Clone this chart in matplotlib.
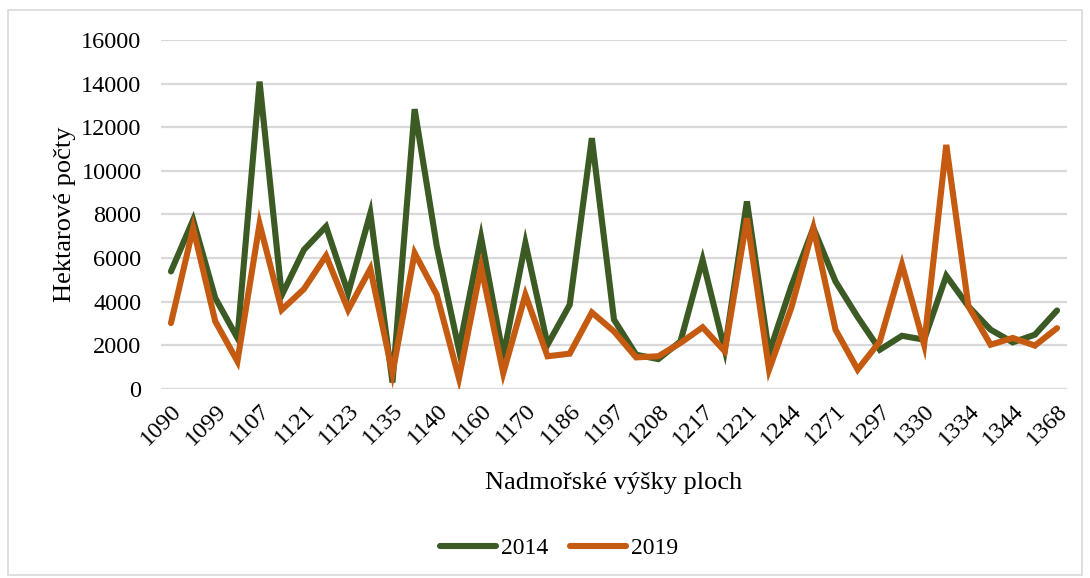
import matplotlib.pyplot as plt
from matplotlib.patches import Rectangle
import numpy as np

# popisky osy x (zobrazena je kazda druha plocha)
x_labels = ['1090', '1099', '1107', '1121', '1123', '1135', '1140', '1160', '1170', '1186', '1197',
            '1208', '1217', '1221', '1244', '1271', '1297', '1330', '1334', '1344', '1368']

# hektarove pocty
vals_2014 = [5390, 7750, 4170, 2340, 14090, 4300, 6380, 7450, 4400, 8060,
             300, 12830, 6540, 1800, 6950, 1500, 6690, 2030, 3860, 11500,
             3180, 1570, 1370, 2180, 5920, 1800, 8600, 1650, 4700, 7380,
             4930, 3300, 1800, 2440, 2260, 5190, 3790, 2720, 2140, 2490, 3600]
vals_2019 = [3020, 7380, 3100, 1270, 7570, 3630, 4580, 6110, 3630, 5510,
             730, 6230, 4320, 500, 5590, 730, 4320, 1500, 1620, 3510,
             2640, 1450, 1500, 2110, 2830, 1730, 7830, 890, 3710, 7380,
             2720, 890, 2180, 5700, 2030, 11190, 3790, 2030, 2340, 1990, 2790]

plt.rcParams['font.family'] = ['Liberation Serif', 'DejaVu Serif']

fig = plt.figure(figsize=(10.9, 5.78), dpi=100)
ax = fig.add_axes([161 / 1090, 1 - 389 / 578, (1067 - 161) / 1090, (389 - 40) / 578])

x = np.arange(len(vals_2014))
ax.plot(x, vals_2014, color='#3B5A24', lw=4.4, label='2014', solid_capstyle='round', solid_joinstyle='miter')
ax.plot(x, vals_2019, color='#C55A11', lw=4.4, label='2019', solid_capstyle='round', solid_joinstyle='miter')

ax.set_ylim(0, 16000)
ax.set_yticks(np.arange(0, 16001, 2000))
ax.set_xlim(-0.45, len(x) - 1 + 0.45)
ax.set_xticks(x[::2])
ax.set_xticklabels(x_labels, rotation=45, ha='right', rotation_mode='anchor')
ax.tick_params(axis='both', length=0, labelsize=17.5, colors='black')
ax.tick_params(axis='x', pad=8)
ax.tick_params(axis='y', pad=14)
ax.grid(axis='y', color='#d9d9d9', lw=1.6)
ax.set_axisbelow(True)
for s in ax.spines.values():
    s.set_visible(False)

ax.set_ylabel('Hektarové počty', fontsize=19)
ax.set_xlabel('Nadmořské výšky ploch', fontsize=19, labelpad=16)

fig.legend(loc='center', bbox_to_anchor=(0.5 + 14 / 1090, 1 - 548 / 578), ncol=2, frameon=False,
           fontsize=17, handlelength=2.4, handletextpad=0.2, columnspacing=0.9)

fig.patches.append(Rectangle((8 / 1090, 3 / 578), 1074 / 1090, 565 / 578, transform=fig.transFigure,
                             fill=False, edgecolor='#d9d9d9', lw=1.2))

fig.savefig('out.png', dpi=100)
